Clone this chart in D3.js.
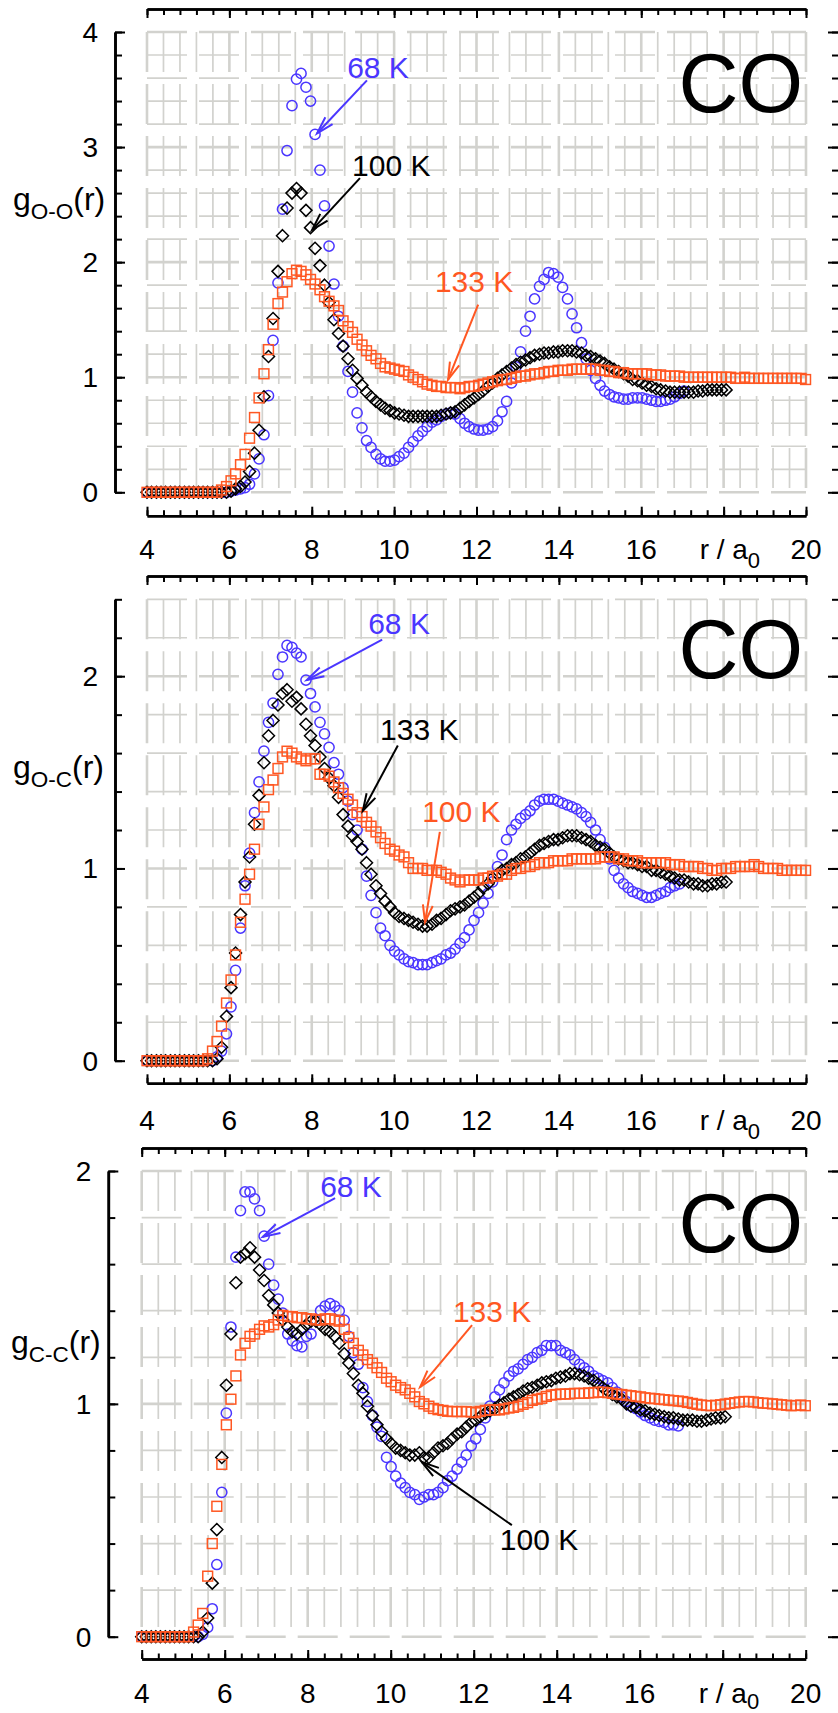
<!DOCTYPE html>
<html><head><meta charset="utf-8">
<script src="https://cdn.jsdelivr.net/npm/d3@7"></script>
<style>
body{margin:0;background:#fff}
svg{display:block}
</style>
</head><body>
<svg id="c" width="838" height="1713"></svg>
<script>
// ---------- DATA ----------
const R = [4.00,4.11,4.23,4.34,4.45,4.57,4.68,4.79,4.91,5.02,5.13,5.25,5.36,5.47,5.59,5.70,5.81,5.93,6.04,6.15,
6.27,6.38,6.49,6.61,6.72,6.84,6.95,7.06,7.18,7.29,7.40,7.52,7.63,7.74,7.86,7.97,8.08,8.20,8.31,8.42,
8.54,8.65,8.76,8.88,8.99,9.10,9.22,9.33,9.44,9.56,9.67,9.78,9.90,10.01,10.12,10.24,10.35,10.46,10.58,10.69,
10.80,10.92,11.03,11.14,11.26,11.37,11.48,11.60,11.71,11.82,11.94,12.05,12.16,12.28,12.39,12.51,12.62,12.73,12.85,12.96,
13.07,13.19,13.30,13.41,13.53,13.64,13.75,13.87,13.98,14.09,14.21,14.32,14.43,14.55,14.66,14.77,14.89,15.00,15.11,15.23,
15.34,15.45,15.57,15.68,15.79,15.91,16.02,16.13,16.25,16.36,16.47,16.59,16.70,16.81,16.93,17.04,17.15,17.27,17.38,17.49,
17.61,17.72,17.83,17.95,18.06,18.17,18.29,18.40,18.51,18.63,18.74,18.85,18.97,19.08,19.20,19.31,19.42,19.54,19.65,19.76,
19.88,19.99];

// g_O-O(r)
const ooK68 = [0,0,0,0,0,0,0,0,0,0,0,0,0,0,0,0,0,0,
0.01,0.02,0.03,0.04,0.07,0.16,0.29,0.50,0.84,1.32,
1.82,2.46,2.97,3.36,3.59,3.64,3.52,3.40,3.11,2.80,
2.49,2.14,1.81,1.53,1.27,1.05,0.87,0.69,0.56,0.45,
0.39,0.33,0.29,0.27,0.27,0.28,0.31,0.34,0.39,0.44,
0.49,0.53,0.57,0.61,0.63,0.66,0.68,0.69,0.68,0.64,
0.60,0.57,0.55,0.54,0.54,0.55,0.57,0.62,0.70,0.79,
0.95,1.09,1.22,1.40,1.53,1.68,1.79,1.85,1.91,1.90,
1.87,1.78,1.68,1.55,1.43,1.30,1.16,1.06,0.99,0.93,
0.88,0.85,0.83,0.82,0.81,0.81,0.82,0.82,0.82,0.81,
0.80,0.79,0.79,0.80,0.81,0.83,0.86,0.88];
const ooK100 = [0,0,0,0,0,0,0,0,0,0,0,0,0,0,0,0,0,0,
0.01,0.03,0.05,0.09,0.18,0.34,0.54,0.83,1.18,1.51,
1.92,2.23,2.47,2.60,2.64,2.60,2.45,2.30,2.12,1.97,
1.80,1.65,1.50,1.38,1.27,1.16,1.06,0.99,0.93,0.87,
0.83,0.79,0.76,0.73,0.71,0.69,0.68,0.67,0.66,0.66,
0.66,0.66,0.66,0.66,0.66,0.67,0.68,0.69,0.70,0.73,
0.76,0.79,0.82,0.85,0.88,0.92,0.95,0.99,1.02,1.05,
1.08,1.11,1.13,1.15,1.17,1.19,1.20,1.21,1.21,1.22,
1.22,1.23,1.23,1.23,1.22,1.21,1.19,1.18,1.16,1.14,
1.12,1.09,1.07,1.05,1.03,1.01,0.98,0.97,0.95,0.93,
0.92,0.90,0.89,0.88,0.87,0.87,0.87,0.87,0.87,0.87,
0.88,0.88,0.89,0.89,0.89,0.89,0.89];
const ooK133 = [0,0,0,0,0,0,0,0,0,0,0,0,0,0,0,0,
0.02,0.05,0.10,0.16,0.24,0.33,0.47,0.65,0.82,1.03,
1.24,1.46,1.64,1.74,1.83,1.90,1.93,1.92,1.89,1.85,
1.81,1.76,1.70,1.66,1.62,1.58,1.49,1.44,1.39,1.33,
1.28,1.23,1.19,1.16,1.12,1.09,1.08,1.07,1.06,1.05,
1.02,1.00,0.98,0.96,0.94,0.93,0.92,0.92,0.91,0.91,
0.91,0.90,0.91,0.92,0.92,0.93,0.94,0.95,0.96,0.97,
0.98,0.98,0.99,1.00,1.01,1.01,1.02,1.03,1.03,1.04,
1.05,1.05,1.06,1.06,1.06,1.07,1.07,1.07,1.07,1.07,
1.07,1.06,1.06,1.05,1.05,1.04,1.04,1.03,1.03,1.03,
1.03,1.03,1.02,1.02,1.02,1.01,1.01,1.01,1.01,1.00,
1.00,1.00,1.00,1.00,1.00,1.00,1.00,1.00,1.00,1.00,
0.99,0.99,1.00,0.99,0.99,0.99,0.99,0.99,0.99,0.99,
0.99,0.99,0.99,0.99,0.99,0.98];

// g_O-C(r)
const ocK68 = [0,0,0,0,0,0,0,0,0,0,0,0,0,0,0,
0.02,0.05,0.14,0.28,0.47,0.69,0.91,1.08,1.29,1.45,
1.61,1.76,1.86,2.01,2.10,2.16,2.15,2.12,2.10,1.98,
1.91,1.84,1.76,1.70,1.63,1.55,1.49,1.42,1.35,1.28,
1.20,1.10,0.96,0.86,0.77,0.69,0.65,0.60,0.57,0.55,
0.53,0.515,0.51,0.50,0.50,0.50,0.51,0.52,0.53,0.55,
0.56,0.58,0.61,0.64,0.68,0.73,0.77,0.82,0.87,0.93,
1.01,1.07,1.15,1.20,1.23,1.26,1.28,1.30,1.33,1.35,
1.36,1.36,1.36,1.35,1.34,1.33,1.32,1.31,1.29,1.27,
1.24,1.20,1.15,1.11,1.05,0.99,0.95,0.92,0.90,0.88,
0.87,0.86,0.85,0.85,0.86,0.87,0.88,0.90,0.91,0.92];
const ocK133 = [0,0,0,0,0,0,0,0,0,0,0,0,0,0,0,
0.01,0.07,0.23,0.38,0.56,0.76,0.93,1.06,1.23,1.38,
1.55,1.69,1.77,1.85,1.91,1.93,1.87,1.89,1.83,1.75,
1.69,1.64,1.58,1.52,1.47,1.43,1.37,1.28,1.22,1.17,
1.14,1.10,1.03,0.97,0.91,0.87,0.83,0.80,0.77,0.75,
0.74,0.73,0.72,0.71,0.70,0.70,0.71,0.73,0.74,0.76,
0.78,0.79,0.80,0.81,0.83,0.85,0.87,0.90,0.92,0.95,
0.97,0.99,1.00,1.02,1.03,1.05,1.06,1.08,1.10,1.12,
1.13,1.14,1.15,1.15,1.16,1.17,1.17,1.17,1.16,1.15,
1.14,1.12,1.11,1.10,1.08,1.06,1.05,1.04,1.03,1.03,
1.02,1.01,1.01,0.99,0.99,0.98,0.97,0.96,0.95,0.94,
0.94,0.93,0.92,0.92,0.91,0.91,0.92,0.92,0.93,0.93];
const ocK100 = [0,0,0,0,0,0,0,0,0,0,0,0,0,
0.01,0.05,0.10,0.18,0.30,0.42,0.55,0.72,0.84,0.97,
1.10,1.23,1.32,1.41,1.46,1.52,1.58,1.61,1.60,1.58,
1.57,1.56,1.57,1.57,1.49,1.49,1.48,1.45,1.42,1.39,
1.36,1.33,1.29,1.27,1.24,1.22,1.19,1.16,1.13,1.10,
1.09,1.07,1.06,1.03,1.00,1.00,1.00,0.99,0.99,0.99,
0.98,0.97,0.95,0.94,0.93,0.94,0.94,0.94,0.94,0.95,
0.95,0.96,0.96,0.97,0.97,0.99,1.00,1.00,1.01,1.01,
1.02,1.03,1.03,1.03,1.04,1.04,1.04,1.04,1.05,1.05,
1.05,1.05,1.05,1.05,1.06,1.06,1.06,1.06,1.05,1.05,
1.04,1.04,1.04,1.03,1.03,1.03,1.03,1.03,1.03,1.02,
1.02,1.02,1.01,1.01,1.01,1.01,1.00,1.00,0.99,0.99,
1.00,1.00,1.00,1.01,1.01,1.01,1.01,1.02,1.01,1.00,
1.00,1.00,1.00,0.99,0.99,0.99,0.99,0.99,0.99];

// g_C-C(r)
const ccK68 = [0,0,0,0,0,0,0,0,0,0,0,0,0,
0.01,0.04,0.12,0.31,0.62,0.96,1.33,1.63,1.83,1.91,
1.91,1.88,1.83,1.72,1.60,1.51,1.45,1.39,1.30,1.27,
1.25,1.245,1.29,1.30,1.36,1.40,1.42,1.43,1.42,1.40,
1.36,1.29,1.22,1.17,1.07,1.01,0.95,0.90,0.86,0.77,
0.73,0.69,0.66,0.64,0.62,0.61,0.59,0.60,0.61,0.61,
0.62,0.64,0.67,0.69,0.72,0.75,0.78,0.82,0.85,0.89,
0.94,0.99,1.03,1.06,1.09,1.12,1.14,1.15,1.17,1.19,
1.20,1.22,1.23,1.25,1.25,1.25,1.23,1.22,1.21,1.19,
1.17,1.155,1.14,1.12,1.11,1.10,1.09,1.07,1.05,1.03,
1.01,0.99,0.98,0.965,0.95,0.94,0.93,0.925,0.92,0.91,
0.91,0.905];
const ccK100 = [0,0,0,0,0,0,0,0,0,0,0,0,0,
0.02,0.08,0.23,0.46,0.77,1.08,1.30,1.52,1.63,1.645,
1.67,1.63,1.575,1.53,1.465,1.425,1.39,1.36,1.33,1.31,
1.30,1.32,1.34,1.355,1.355,1.34,1.32,1.31,1.29,1.26,
1.215,1.175,1.13,1.08,1.045,0.99,0.95,0.91,0.88,0.85,
0.83,0.81,0.80,0.79,0.78,0.78,0.79,0.77,0.77,0.79,
0.81,0.82,0.83,0.85,0.87,0.88,0.90,0.92,0.93,0.945,
0.96,0.97,0.98,0.995,1.005,1.02,1.03,1.04,1.055,1.065,
1.07,1.08,1.09,1.095,1.10,1.11,1.115,1.12,1.13,1.13,
1.125,1.12,1.11,1.10,1.085,1.07,1.055,1.04,1.03,1.02,
1.00,0.99,0.985,0.975,0.97,0.96,0.955,0.95,0.945,0.94,
0.94,0.935,0.93,0.93,0.93,0.925,0.925,0.93,0.935,0.94,
0.94,0.945];
const ccK133 = [0,0,0,0,0,0,0,0,0,0,0,
0.02,0.05,0.10,0.26,0.40,0.56,0.74,0.91,1.02,1.12,
1.21,1.26,1.29,1.30,1.32,1.335,1.33,1.34,1.36,1.38,
1.375,1.375,1.37,1.37,1.365,1.365,1.36,1.36,1.365,1.365,
1.36,1.355,1.32,1.285,1.26,1.23,1.21,1.19,1.175,1.155,
1.135,1.11,1.095,1.08,1.07,1.06,1.045,1.03,1.01,1.00,
0.99,0.98,0.975,0.972,0.968,0.967,0.967,0.967,0.967,0.965,
0.962,0.968,0.972,0.974,0.974,0.974,0.978,0.982,0.985,0.99,
0.998,1.005,1.015,1.02,1.024,1.032,1.038,1.04,1.042,1.042,
1.043,1.045,1.045,1.045,1.047,1.048,1.05,1.05,1.048,1.045,
1.042,1.04,1.037,1.035,1.032,1.03,1.026,1.024,1.022,1.02,
1.018,1.016,1.014,1.012,1.01,1.006,1.002,0.998,0.995,0.993,
0.992,0.994,0.996,0.999,1.002,1.005,1.008,1.01,1.01,1.008,
1.005,1.003,1.002,1.0,0.998,0.996,0.994,0.992,0.993,0.995,0.992];

const xLabelTicks = [4,6,8,10,12,14,16,18,20];
const xLabelText  = ["4","6","8","10","12","14","16","r / a","20"];
const yLabels1 = [0,1,2,3,4];
const yLabels23 = [0,1,2];

// ---------- STYLE ----------
const FONT = "Liberation Sans, Arial, sans-serif";
const BLUE = "#4a36ff", ORANGE = "#ff5722", BLACK = "#000", GRID = "#d2d2ce";

const panels = [
 {xL:147, xR:806, yTop:32, y0:492.3, yMax:4, axisX:115, topY:9, botY:515.7, base:559, subDy:9, yl:yLabels1, sub:"O-O", tx:13, ty:210, coY:112,
  series:[{v:ooK68,c:BLUE,s:"circle"},{v:ooK100,c:BLACK,s:"diamond"},{v:ooK133,c:ORANGE,s:"square"}],
  notes:[{t:"68 K",c:BLUE,tx:8.86,ty:3.60,a:[9.34,3.58,8.13,3.12]},
         {t:"100 K",c:BLACK,tx:8.98,ty:2.75,a:[9.17,2.73,8.01,2.28]},
         {t:"133 K",c:ORANGE,tx:10.99,ty:1.74,a:[12.04,1.63,11.31,0.98]}]},
 {xL:147, xR:806, yTop:599.3, y0:1060.7, yMax:2.4, axisX:115, topY:576, botY:1083.3, base:1130, subDy:9, yl:yLabels23, sub:"O-C", tx:13, ty:778, coY:678,
  series:[{v:ocK68,c:BLUE,s:"circle"},{v:ocK133,c:BLACK,s:"diamond"},{v:ocK100,c:ORANGE,s:"square"}],
  notes:[{t:"68 K",c:BLUE,tx:9.37,ty:2.22,a:[9.71,2.19,7.88,1.98]},
         {t:"133 K",c:BLACK,tx:9.66,ty:1.67,a:[10.09,1.64,9.24,1.30]},
         {t:"100 K",c:ORANGE,tx:10.68,ty:1.24,a:[11.11,1.19,10.75,0.72]}]},
 {xL:141.7, xR:805.7, yTop:1171, y0:1636.7, yMax:2, axisX:108.3, topY:1148, botY:1659, base:1703, subDy:6, yl:yLabels23, sub:"C-C", tx:11, ty:1353, coY:1252,
  series:[{v:ccK68,c:BLUE,s:"circle"},{v:ccK100,c:BLACK,s:"diamond"},{v:ccK133,c:ORANGE,s:"square"}],
  notes:[{t:"68 K",c:BLUE,tx:8.30,ty:1.888,a:[8.66,1.884,6.92,1.717]},
         {t:"133 K",c:ORANGE,tx:11.50,ty:1.351,a:[11.96,1.338,10.71,1.072]},
         {t:"100 K",c:BLACK,tx:12.63,ty:0.372,a:[12.92,0.479,10.75,0.75]}]}
];

const svg = d3.select("#c").attr("font-family", FONT);
svg.append("rect").attr("width",838).attr("height",1713).attr("fill","#fff");

function txt(sel){ return sel.append("text").attr("font-family", FONT); }

function drawPanel(p){
  const x = d3.scaleLinear().domain([4,20]).range([p.xL,p.xR]);
  const y = d3.scaleLinear().domain([0,p.yMax]).range([p.y0,p.yTop]);
  const g = svg.append("g");

  // grid
  const gxv = d3.range(4, 20.0001, 0.4);
  const gyv = d3.range(0, p.yMax+0.0001, 0.2);
  const grid = g.append("g").attr("stroke",GRID).attr("fill","none");
  gxv.forEach(v=>{
    const major = Math.abs(v/2-Math.round(v/2))<1e-6;
    grid.append("line").attr("x1",x(v)).attr("x2",x(v)).attr("y1",y(p.yMax)).attr("y2",y(0))
      .attr("stroke-width",major?2.6:1.7).attr("stroke-dasharray","40 12");
  });
  gyv.forEach(v=>{
    const major = Math.abs(v-Math.round(v))<1e-6;
    grid.append("line").attr("x1",p.xL).attr("x2",p.xR).attr("y1",y(v)).attr("y2",y(v))
      .attr("stroke-width",major?2.6:1.7).attr("stroke-dasharray","40 12");
  });

  // axes
  const minorX = d3.range(4, 20.0001, 0.4), majorX = d3.range(4, 20.0001, 2);
  const minorY = d3.range(0, p.yMax+0.0001, 0.2), majorY = d3.range(0, p.yMax+0.0001, 1);
  function styl(sel){ sel.selectAll("path,line").attr("stroke","#000").attr("stroke-width",2); sel.select(".domain").attr("stroke-width",2.6); sel.selectAll("text").remove(); }
  g.append("g").attr("transform",`translate(0,${p.botY})`).call(d3.axisTop(x).tickValues(minorX).tickSize(5.5).tickSizeOuter(0).tickFormat("")).call(styl);
  g.append("g").attr("transform",`translate(0,${p.botY})`).call(d3.axisTop(x).tickValues(majorX).tickSize(9).tickSizeOuter(0).tickFormat("")).call(styl);
  g.append("g").attr("transform",`translate(0,${p.topY})`).call(d3.axisBottom(x).tickValues(minorX).tickSize(6).tickSizeOuter(0).tickFormat("")).call(styl);
  g.append("g").attr("transform",`translate(0,${p.topY})`).call(d3.axisBottom(x).tickValues(majorX).tickSize(9).tickSizeOuter(0).tickFormat("")).call(styl);
  g.append("g").attr("transform",`translate(${p.axisX},0)`).call(d3.axisRight(y).tickValues(minorY).tickSize(7).tickSizeOuter(0).tickFormat("")).call(styl);
  g.append("g").attr("transform",`translate(${p.axisX},0)`).call(d3.axisRight(y).tickValues(majorY).tickSize(10).tickSizeOuter(0).tickFormat("")).call(styl);
  g.append("g").attr("transform",`translate(839,0)`).call(d3.axisLeft(y).tickValues(minorY).tickSize(7).tickSizeOuter(0).tickFormat("")).call(styl);
  g.append("g").attr("transform",`translate(839,0)`).call(d3.axisLeft(y).tickValues(majorY).tickSize(11).tickSizeOuter(0).tickFormat("")).call(styl);

  // x labels
  xLabelTicks.forEach((v,i)=>{
    if(v===18){
      const t = txt(g).attr("x",x(18)-24).attr("y",p.base).attr("font-size",28).attr("fill","#000").attr("xml:space","preserve");
      t.append("tspan").text(xLabelText[i]);
      t.append("tspan").attr("font-size",22).attr("dy",p.subDy).text("0");
    } else {
      txt(g).attr("x",x(v)).attr("y",p.base).attr("text-anchor","middle").attr("font-size",28).attr("fill","#000").text(xLabelText[i]);
    }
  });
  p.yl.forEach(v=>{
    txt(g).attr("x",p.axisX-17).attr("y",y(v)+10).attr("text-anchor","end").attr("font-size",28).attr("fill","#000").text(v);
  });
  const tt = txt(g).attr("x",p.tx).attr("y",p.ty).attr("font-size",32).attr("fill","#000");
  tt.append("tspan").text("g");
  tt.append("tspan").attr("font-size",22.5).attr("dy",9).text(p.sub);
  tt.append("tspan").attr("font-size",32).attr("dy",-9).text("(r)");
  txt(g).attr("x",803).attr("y",p.coY).attr("text-anchor","end").attr("font-size",83).attr("fill","#000").text("CO");

  // series
  p.series.forEach(s=>{
    const pts = s.v.map((gv,i)=>[R[i],gv]);
    const sg = g.append("g").attr("fill","none").attr("stroke",s.c).attr("stroke-width",1.5);
    if(s.s==="circle"){
      sg.selectAll("circle").data(pts).join("circle").attr("cx",d=>x(d[0])).attr("cy",d=>y(d[1])).attr("r",5.1);
    } else if(s.s==="diamond"){
      sg.selectAll("path").data(pts).join("path").attr("d","M0,-6L6,0L0,6L-6,0Z").attr("transform",d=>`translate(${x(d[0])},${y(d[1])})`);
    } else {
      sg.selectAll("rect").data(pts).join("rect").attr("x",d=>x(d[0])-4.9).attr("y",d=>y(d[1])-4.9).attr("width",9.8).attr("height",9.8);
    }
  });

  // annotations
  p.notes.forEach(n=>{
    txt(g).attr("x",x(n.tx)).attr("y",y(n.ty)).attr("font-size",30).attr("fill",n.c).text(n.t);
    const x1=x(n.a[0]), y1=y(n.a[1]), x2=x(n.a[2]), y2=y(n.a[3]);
    g.append("line").attr("x1",x1).attr("y1",y1).attr("x2",x2).attr("y2",y2).attr("stroke",n.c).attr("stroke-width",2);
    const ang=Math.atan2(y2-y1,x2-x1), L=18, a=0.28;
    g.append("path").attr("d",`M${x2-L*Math.cos(ang-a)},${y2-L*Math.sin(ang-a)}L${x2},${y2}L${x2-L*Math.cos(ang+a)},${y2-L*Math.sin(ang+a)}`)
      .attr("fill","none").attr("stroke",n.c).attr("stroke-width",2);
  });
}
panels.forEach(drawPanel);
</script>
</body></html>
